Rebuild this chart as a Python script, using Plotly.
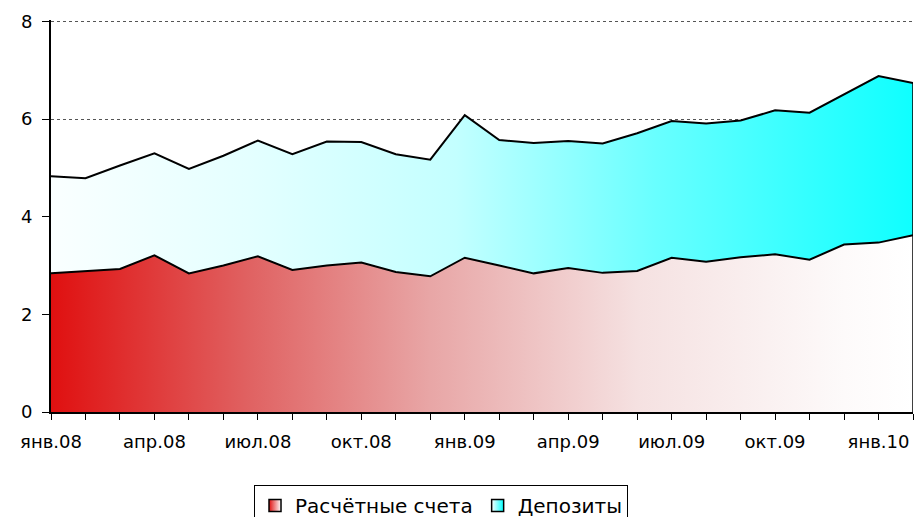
import plotly.graph_objects as go

months = ["янв.08", "фев.08", "мар.08", "апр.08", "май.08", "июн.08", "июл.08", "авг.08",
          "сен.08", "окт.08", "ноя.08", "дек.08", "янв.09", "фев.09", "мар.09", "апр.09",
          "май.09", "июн.09", "июл.09", "авг.09", "сен.09", "окт.09", "ноя.09", "дек.09",
          "янв.10", "фев.10"]

current_accounts = [2.84, 2.89, 2.93, 3.21, 2.84, 3.00, 3.19, 2.91, 3.00, 3.06, 2.87, 2.78, 3.16,
                    3.00, 2.84, 2.95, 2.85, 2.89, 3.16, 3.08, 3.17, 3.23, 3.12, 3.43, 3.47, 3.62]
totals = [4.83, 4.79, 5.05, 5.30, 4.98, 5.25, 5.56, 5.28, 5.54, 5.53, 5.28, 5.17, 6.08,
          5.57, 5.51, 5.55, 5.50, 5.71, 5.96, 5.91, 5.97, 6.18, 6.13, 6.50, 6.88, 6.74]
deposits = [round(t - c, 2) for t, c in zip(totals, current_accounts)]

series_names = ["Расчётные счета", "Депозиты"]
y_ticks = [0, 2, 4, 6, 8]

label_step = 3
x = list(range(len(months)))
ticktext = [m if i % label_step == 0 else "" for i, m in enumerate(months)]

red_scale = [[0, "rgb(224,16,16)"], [0.23, "rgb(224,98,98)"], [0.44, "rgb(232,166,166)"],
             [0.68, "rgb(245,225,225)"], [0.92, "rgb(253,250,250)"], [1, "rgb(255,255,255)"]]
cyan_scale = [[0, "rgb(250,255,255)"], [0.23, "rgb(228,255,255)"], [0.47, "rgb(195,255,255)"],
              [0.7, "rgb(105,255,255)"], [1, "rgb(15,255,255)"]]

fig = go.Figure()
fig.add_trace(go.Scatter(
    x=x, y=current_accounts, name=series_names[0], stackgroup="one",
    mode="lines", line=dict(color="black", width=2), showlegend=False,
    fillgradient=dict(type="horizontal", colorscale=red_scale),
))
fig.add_trace(go.Scatter(
    x=x, y=deposits, name=series_names[1], stackgroup="one",
    mode="lines", line=dict(color="black", width=2), showlegend=False,
    fillgradient=dict(type="horizontal", colorscale=cyan_scale),
))

# legend swatches (square with horizontal gradient, black border)
fig.add_trace(go.Scatter(
    x=[None], y=[None], name=series_names[0], mode="markers",
    marker=dict(symbol="square", size=12, color="rgb(224,16,16)",
                gradient=dict(type="horizontal", color="white"),
                line=dict(color="black", width=1.5)),
))
fig.add_trace(go.Scatter(
    x=[None], y=[None], name=series_names[1], mode="markers",
    marker=dict(symbol="square", size=12, color="white",
                gradient=dict(type="horizontal", color="rgb(0,255,255)"),
                line=dict(color="black", width=1.5)),
))

# right edge outline of the stacked area
fig.add_shape(type="line", x0=x[-1], x1=x[-1], y0=0, y1=totals[-1],
              xref="x", yref="y", line=dict(color="black", width=1.5), layer="above")

font = dict(family="DejaVu Sans, Arial, sans-serif", size=18, color="black")
legend_font = dict(family="DejaVu Sans, Arial, sans-serif", size=20, color="black")

fig.update_layout(
    width=914, height=517,
    margin=dict(l=51, r=1, t=20, b=105, autoexpand=False),
    plot_bgcolor="white", paper_bgcolor="white",
    font=font,
    showlegend=True,
    legend=dict(orientation="h", xref="container", yref="container",
                x=0.4825, xanchor="center", y=0.062, yanchor="top",
                bordercolor="black", borderwidth=1, font=legend_font, traceorder="normal",
                itemwidth=30, tracegroupgap=0),
    xaxis=dict(range=[0, len(months) - 1], tickmode="array", tickvals=x, ticktext=ticktext,
               ticks="outside", ticklen=6, tickcolor="black", showline=True, linecolor="black",
               linewidth=2, showgrid=False, zeroline=False, ticklabelstandoff=6,
               automargin=False),
    yaxis=dict(range=[0, 8.03], tickvals=y_ticks, ticks="outside", ticklen=7,
               tickcolor="black", showline=True, linecolor="black", linewidth=2, showgrid=True,
               gridcolor="#555555", griddash="dot", gridwidth=1, zeroline=False,
               ticklabelstandoff=6, automargin=False),
)

fig.write_html(
    "out.html",
    config={"displayModeBar": False},
    post_script="document.body.style.margin='0';document.body.style.overflow='hidden';",
)
